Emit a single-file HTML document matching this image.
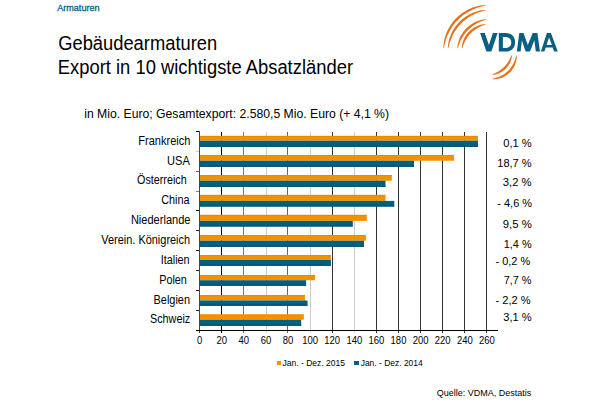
<!DOCTYPE html>
<html><head><meta charset="utf-8"><style>
html,body{margin:0;padding:0;background:#fff;width:600px;height:400px;overflow:hidden}
svg{display:block}
text{font-family:"Liberation Sans",sans-serif}
</style></head><body>
<svg width="600" height="400" viewBox="0 0 600 400">
<rect x="221" y="132" width="1" height="201" fill="#000"/>
<rect x="243" y="132" width="1" height="201" fill="#777"/>
<rect x="266" y="132" width="1" height="201" fill="#ccc"/>
<rect x="287" y="132" width="1" height="201" fill="#666"/>
<rect x="310" y="132" width="1" height="201" fill="#ccc"/>
<rect x="332" y="132" width="1" height="201" fill="#333"/>
<rect x="354" y="132" width="1" height="201" fill="#ccc"/>
<rect x="376" y="132" width="1" height="201" fill="#333"/>
<rect x="398" y="132" width="1" height="201" fill="#333"/>
<rect x="420" y="132" width="1" height="201" fill="#333"/>
<rect x="442" y="132" width="1" height="201" fill="#333"/>
<rect x="464" y="132" width="1" height="201" fill="#333"/>
<rect x="486" y="132" width="1" height="201" fill="#333"/>
<rect x="200" y="135.9" width="278.00" height="4.85" fill="#f39200"/>
<rect x="200" y="140.75" width="278.00" height="6.00" fill="#006080"/>
<rect x="200" y="145.65" width="278.00" height="1.1" fill="#004e6a"/>
<rect x="200" y="135.9" width="278.00" height="1" fill="#ee8700"/>
<rect x="200" y="155.0" width="254.00" height="5.75" fill="#f39200"/>
<rect x="200" y="160.75" width="214.00" height="6.00" fill="#006080"/>
<rect x="200" y="165.65" width="214.00" height="1.1" fill="#004e6a"/>
<rect x="200" y="155.0" width="254.00" height="1" fill="#ee8700"/>
<rect x="200" y="175.0" width="191.80" height="5.75" fill="#f39200"/>
<rect x="200" y="180.75" width="185.50" height="6.00" fill="#006080"/>
<rect x="200" y="185.65" width="185.50" height="1.1" fill="#004e6a"/>
<rect x="200" y="175.0" width="191.80" height="1" fill="#ee8700"/>
<rect x="200" y="194.9" width="185.50" height="6.00" fill="#f39200"/>
<rect x="200" y="200.9" width="194.30" height="5.60" fill="#006080"/>
<rect x="200" y="205.40" width="194.30" height="1.1" fill="#004e6a"/>
<rect x="200" y="194.9" width="185.50" height="1" fill="#ee8700"/>
<rect x="200" y="214.9" width="166.80" height="6.00" fill="#f39200"/>
<rect x="200" y="220.9" width="152.80" height="5.60" fill="#006080"/>
<rect x="200" y="225.40" width="152.80" height="1.1" fill="#004e6a"/>
<rect x="200" y="214.9" width="166.80" height="1" fill="#ee8700"/>
<rect x="200" y="235.0" width="165.90" height="5.75" fill="#f39200"/>
<rect x="200" y="240.75" width="164.00" height="6.00" fill="#006080"/>
<rect x="200" y="245.65" width="164.00" height="1.1" fill="#004e6a"/>
<rect x="200" y="235.0" width="165.90" height="1" fill="#ee8700"/>
<rect x="200" y="255.0" width="130.90" height="5.00" fill="#f39200"/>
<rect x="200" y="260.0" width="130.90" height="5.75" fill="#006080"/>
<rect x="200" y="264.65" width="130.90" height="1.1" fill="#004e6a"/>
<rect x="200" y="255.0" width="130.90" height="1" fill="#ee8700"/>
<rect x="200" y="275.0" width="115.00" height="5.25" fill="#f39200"/>
<rect x="200" y="280.25" width="106.10" height="5.50" fill="#006080"/>
<rect x="200" y="284.65" width="106.10" height="1.1" fill="#004e6a"/>
<rect x="200" y="275.0" width="115.00" height="1" fill="#ee8700"/>
<rect x="200" y="295.0" width="105.00" height="5.50" fill="#f39200"/>
<rect x="200" y="300.5" width="107.50" height="5.25" fill="#006080"/>
<rect x="200" y="304.65" width="107.50" height="1.1" fill="#004e6a"/>
<rect x="200" y="295.0" width="105.00" height="1" fill="#ee8700"/>
<rect x="200" y="314.5" width="103.80" height="5.25" fill="#f39200"/>
<rect x="200" y="319.75" width="101.20" height="6.00" fill="#006080"/>
<rect x="200" y="324.65" width="101.20" height="1.1" fill="#004e6a"/>
<rect x="200" y="314.5" width="103.80" height="1" fill="#ee8700"/>
<rect x="199" y="131" width="1" height="202" fill="#444"/>
<rect x="196" y="330" width="302" height="1" fill="#000"/>
<rect x="196" y="131" width="3" height="1" fill="#000"/>
<rect x="196" y="151" width="3" height="1" fill="#ccc"/>
<rect x="196" y="171" width="3" height="1" fill="#666"/>
<rect x="196" y="191" width="3" height="1" fill="#888"/>
<rect x="196" y="210" width="3" height="1" fill="#000"/>
<rect x="196" y="230" width="3" height="1" fill="#222"/>
<rect x="196" y="250" width="3" height="1" fill="#222"/>
<rect x="196" y="270" width="3" height="1" fill="#222"/>
<rect x="196" y="290" width="3" height="1" fill="#222"/>
<rect x="196" y="310" width="3" height="1" fill="#222"/>
<rect x="277" y="361" width="4" height="4" fill="#f39200"/>
<rect x="354" y="361" width="5" height="4" fill="#006080"/>
<g fill="#e6711b"><path d="M443.42,48.21 L443.42,46.56 L443.54,44.92 L443.73,43.28 L443.99,41.64 L444.31,40.02 L444.70,38.41 L445.14,36.81 L445.65,35.23 L446.22,33.66 L446.84,32.12 L447.53,30.60 L448.27,29.11 L449.06,27.64 L449.92,26.21 L450.82,24.80 L451.77,23.43 L452.78,22.10 L453.84,20.80 L454.94,19.55 L456.09,18.33 L457.28,17.16 L458.52,16.04 L459.80,14.96 L461.12,13.93 L462.47,12.95 L463.86,12.03 L465.28,11.15 L466.73,10.33 L468.21,9.57 L469.72,8.86 L471.25,8.21 L472.80,7.61 L474.38,7.08 L475.97,6.60 L477.57,6.19 L479.19,5.84 L480.82,5.55 L482.46,5.33 L484.10,5.19 L485.75,5.16 L485.79,5.63 L484.20,5.98 L482.62,6.32 L481.05,6.70 L479.50,7.13 L477.96,7.60 L476.45,8.11 L474.95,8.68 L473.47,9.29 L472.01,9.95 L470.58,10.65 L469.17,11.40 L467.78,12.19 L466.43,13.03 L465.10,13.90 L463.80,14.82 L462.54,15.78 L461.30,16.79 L460.10,17.83 L458.93,18.90 L457.80,20.02 L456.71,21.17 L455.65,22.35 L454.63,23.57 L453.65,24.82 L452.71,26.11 L451.81,27.42 L450.96,28.76 L450.14,30.13 L449.38,31.53 L448.65,32.95 L447.97,34.39 L447.34,35.86 L446.75,37.35 L446.22,38.86 L445.72,40.39 L445.28,41.93 L444.88,43.49 L444.53,45.07 L444.21,46.65 L443.89,48.25Z"/><path d="M447.86,48.20 L447.88,46.73 L448.02,45.28 L448.22,43.82 L448.48,42.38 L448.79,40.95 L449.16,39.52 L449.58,38.11 L450.05,36.71 L450.58,35.34 L451.15,33.97 L451.78,32.63 L452.45,31.32 L453.17,30.02 L453.94,28.76 L454.75,27.52 L455.61,26.31 L456.51,25.13 L457.46,23.99 L458.44,22.88 L459.47,21.80 L460.53,20.77 L461.63,19.77 L462.77,18.82 L463.93,17.90 L465.13,17.03 L466.37,16.21 L467.62,15.43 L468.91,14.69 L470.22,14.01 L471.56,13.37 L472.91,12.78 L474.28,12.24 L475.68,11.76 L477.08,11.32 L478.50,10.94 L479.94,10.61 L481.38,10.34 L482.83,10.13 L484.28,9.98 L485.74,9.94 L485.80,10.41 L484.40,10.77 L483.01,11.11 L481.63,11.49 L480.27,11.89 L478.92,12.34 L477.58,12.83 L476.27,13.35 L474.97,13.91 L473.69,14.51 L472.43,15.15 L471.19,15.83 L469.98,16.54 L468.78,17.29 L467.62,18.08 L466.47,18.90 L465.36,19.75 L464.27,20.64 L463.21,21.56 L462.18,22.51 L461.17,23.49 L460.20,24.50 L459.26,25.55 L458.35,26.62 L457.47,27.71 L456.63,28.84 L455.82,29.99 L455.05,31.16 L454.31,32.36 L453.61,33.59 L452.94,34.83 L452.32,36.10 L451.73,37.38 L451.18,38.69 L450.67,40.01 L450.19,41.35 L449.76,42.70 L449.37,44.07 L449.01,45.45 L448.68,46.85 L448.33,48.25Z"/><path d="M457.35,48.18 L457.37,47.08 L457.49,46.00 L457.66,44.91 L457.88,43.84 L458.13,42.77 L458.42,41.71 L458.76,40.66 L459.12,39.63 L459.53,38.60 L459.97,37.59 L460.45,36.59 L460.96,35.61 L461.51,34.65 L462.09,33.70 L462.70,32.78 L463.35,31.87 L464.02,30.99 L464.73,30.14 L465.46,29.30 L466.23,28.50 L467.02,27.72 L467.84,26.97 L468.68,26.25 L469.55,25.56 L470.44,24.89 L471.35,24.26 L472.29,23.67 L473.24,23.10 L474.21,22.57 L475.20,22.08 L476.21,21.62 L477.22,21.19 L478.26,20.81 L479.30,20.46 L480.35,20.14 L481.41,19.87 L482.49,19.64 L483.56,19.45 L484.65,19.31 L485.74,19.26 L485.82,19.73 L484.81,20.09 L483.80,20.42 L482.80,20.77 L481.80,21.14 L480.82,21.53 L479.86,21.94 L478.90,22.38 L477.96,22.84 L477.04,23.33 L476.13,23.84 L475.23,24.37 L474.35,24.93 L473.49,25.51 L472.64,26.11 L471.81,26.74 L471.00,27.38 L470.21,28.05 L469.43,28.74 L468.68,29.45 L467.94,30.18 L467.22,30.93 L466.53,31.70 L465.85,32.49 L465.20,33.29 L464.57,34.11 L463.96,34.95 L463.37,35.81 L462.81,36.69 L462.26,37.58 L461.75,38.48 L461.25,39.40 L460.78,40.34 L460.34,41.28 L459.92,42.25 L459.52,43.22 L459.15,44.21 L458.80,45.20 L458.47,46.21 L458.16,47.23 L457.82,48.25Z"/><path d="M461.76,48.16 L461.74,47.25 L461.82,46.34 L461.94,45.43 L462.10,44.53 L462.29,43.63 L462.52,42.75 L462.78,41.86 L463.08,40.99 L463.41,40.13 L463.77,39.28 L464.16,38.44 L464.58,37.61 L465.03,36.80 L465.51,36.01 L466.01,35.23 L466.55,34.47 L467.11,33.73 L467.70,33.01 L468.32,32.31 L468.96,31.64 L469.62,30.99 L470.31,30.36 L471.02,29.76 L471.75,29.18 L472.50,28.63 L473.27,28.11 L474.05,27.62 L474.86,27.16 L475.67,26.72 L476.51,26.32 L477.35,25.94 L478.21,25.60 L479.08,25.29 L479.96,25.02 L480.84,24.77 L481.73,24.56 L482.63,24.39 L483.54,24.25 L484.44,24.16 L485.36,24.16 L485.44,24.63 L484.60,24.95 L483.76,25.23 L482.93,25.52 L482.11,25.83 L481.30,26.16 L480.50,26.50 L479.71,26.87 L478.94,27.25 L478.17,27.66 L477.42,28.08 L476.68,28.52 L475.96,28.99 L475.25,29.47 L474.55,29.96 L473.86,30.48 L473.19,31.02 L472.54,31.57 L471.90,32.14 L471.28,32.72 L470.67,33.32 L470.08,33.94 L469.50,34.57 L468.95,35.22 L468.41,35.88 L467.88,36.56 L467.38,37.25 L466.89,37.96 L466.42,38.68 L465.97,39.41 L465.54,40.16 L465.13,40.92 L464.74,41.69 L464.37,42.47 L464.02,43.27 L463.69,44.07 L463.37,44.89 L463.08,45.71 L462.80,46.55 L462.53,47.39 L462.23,48.23Z"/><path d="M511.95,55.41 L511.95,56.16 L511.86,56.89 L511.73,57.61 L511.58,58.34 L511.40,59.05 L511.19,59.77 L510.95,60.47 L510.69,61.17 L510.41,61.86 L510.10,62.54 L509.77,63.21 L509.41,63.86 L509.03,64.51 L508.63,65.14 L508.21,65.76 L507.76,66.37 L507.30,66.96 L506.82,67.53 L506.31,68.09 L505.79,68.63 L505.25,69.15 L504.69,69.65 L504.11,70.14 L503.52,70.60 L502.92,71.04 L502.30,71.46 L501.66,71.86 L501.01,72.24 L500.35,72.60 L499.69,72.93 L499.00,73.23 L498.32,73.52 L497.62,73.78 L496.91,74.01 L496.20,74.22 L495.48,74.40 L494.76,74.55 L494.03,74.67 L493.30,74.76 L492.56,74.76 L492.46,74.29 L493.11,73.98 L493.77,73.71 L494.42,73.43 L495.06,73.14 L495.69,72.85 L496.32,72.54 L496.94,72.22 L497.55,71.89 L498.15,71.54 L498.74,71.18 L499.32,70.81 L499.89,70.43 L500.45,70.03 L501.00,69.62 L501.54,69.20 L502.07,68.77 L502.59,68.33 L503.11,67.87 L503.60,67.41 L504.09,66.93 L504.57,66.44 L505.04,65.94 L505.49,65.44 L505.94,64.92 L506.37,64.39 L506.79,63.85 L507.20,63.29 L507.60,62.73 L507.98,62.16 L508.35,61.58 L508.71,60.99 L509.06,60.40 L509.40,59.79 L509.72,59.17 L510.03,58.55 L510.33,57.91 L510.61,57.27 L510.89,56.62 L511.17,55.96 L511.48,55.31Z"/><path d="M516.63,55.42 L516.71,56.36 L516.70,57.30 L516.63,58.24 L516.52,59.17 L516.37,60.10 L516.18,61.03 L515.96,61.95 L515.69,62.86 L515.38,63.77 L515.04,64.66 L514.66,65.53 L514.25,66.39 L513.80,67.24 L513.32,68.06 L512.80,68.87 L512.25,69.66 L511.67,70.42 L511.06,71.16 L510.42,71.88 L509.75,72.56 L509.05,73.22 L508.33,73.86 L507.58,74.46 L506.81,75.03 L506.01,75.57 L505.20,76.07 L504.37,76.54 L503.52,76.98 L502.65,77.38 L501.77,77.75 L500.87,78.08 L499.97,78.37 L499.05,78.63 L498.13,78.84 L497.20,79.02 L496.26,79.16 L495.33,79.25 L494.39,79.30 L493.45,79.31 L492.51,79.21 L492.49,78.73 L493.38,78.51 L494.26,78.31 L495.14,78.09 L496.00,77.86 L496.86,77.60 L497.70,77.32 L498.54,77.01 L499.36,76.67 L500.17,76.32 L500.96,75.93 L501.75,75.53 L502.51,75.10 L503.27,74.64 L504.00,74.17 L504.72,73.67 L505.43,73.15 L506.11,72.61 L506.78,72.04 L507.43,71.46 L508.06,70.86 L508.68,70.23 L509.27,69.59 L509.84,68.93 L510.39,68.25 L510.92,67.55 L511.43,66.84 L511.92,66.11 L512.38,65.36 L512.82,64.60 L513.24,63.83 L513.63,63.04 L514.00,62.23 L514.34,61.41 L514.66,60.59 L514.96,59.74 L515.23,58.89 L515.48,58.03 L515.70,57.16 L515.91,56.27 L516.15,55.39Z"/></g>
<path d="M480.1,33.1 L484.8,33.1 L488.9,45.1 L492.9,33.1 L497.6,33.1 L491.4,51.6 L486.4,51.6 Z M498.8,33.1 H505.5 C511.5,33.1 515.1,36.8 515.1,42.35 C515.1,47.9 511.5,51.6 505.5,51.6 H498.8 Z M502.9,36.9 H505 C509,36.9 511.3,39 511.3,42.5 C511.3,46 509,48.1 505,48.1 H502.9 Z M516.8,51.6 L519.3,33.1 L523.5,33.1 L527.8,45 L532.7,33.1 L537.4,33.1 L540,51.6 L535.8,51.6 L534.3,40.3 L530,51.6 L525.6,51.6 L521.9,40.5 L520.6,51.6 Z M540.9,51.6 L546.9,33.1 L550.9,33.1 L557.8,51.6 L554.1,51.6 L552.6,47.5 L545.7,47.5 L544.4,51.6 Z M549,37.5 L551.9,45 L546.6,45 Z" fill="#0b5f80" fill-rule="evenodd"/>
<text stroke="#005a82" stroke-width="0.25" x="57.18" y="11.50" font-size="9.0" textLength="42.41" lengthAdjust="spacingAndGlyphs" fill="#005a82" transform="translate(0 11.50) scale(1 1.06) translate(0 -11.50)">Armaturen</text>
<text x="58.18" y="49.75" font-size="19.0" textLength="159.01" lengthAdjust="spacingAndGlyphs" fill="#000" transform="translate(0 49.75) scale(1 1.055) translate(0 -49.75)">Gebäudearmaturen</text>
<text x="57.80" y="74.20" font-size="19.0" textLength="295.21" lengthAdjust="spacingAndGlyphs" fill="#000" transform="translate(0 74.20) scale(1 1.055) translate(0 -74.20)">Export in 10 wichtigste Absatzländer</text>
<text x="84.18" y="118.00" font-size="12.2" textLength="304.87" lengthAdjust="spacingAndGlyphs" fill="#000" transform="translate(0 118.00) scale(1 1.06) translate(0 -118.00)">in Mio. Euro; Gesamtexport: 2.580,5 Mio. Euro (+ 4,1 %)</text>
<text x="138.35" y="144.75" font-size="11.2" textLength="52.07" lengthAdjust="spacingAndGlyphs" fill="#000" transform="translate(0 144.75) scale(1 1.06) translate(0 -144.75)">Frankreich</text>
<text x="167.05" y="164.70" font-size="11.2" textLength="22.78" lengthAdjust="spacingAndGlyphs" fill="#000" transform="translate(0 164.70) scale(1 1.06) translate(0 -164.70)">USA</text>
<text x="137.09" y="183.80" font-size="11.2" textLength="49.61" lengthAdjust="spacingAndGlyphs" fill="#000" transform="translate(0 183.80) scale(1 1.06) translate(0 -183.80)">Österreich</text>
<text x="161.15" y="203.80" font-size="11.2" textLength="28.35" lengthAdjust="spacingAndGlyphs" fill="#000" transform="translate(0 203.80) scale(1 1.06) translate(0 -203.80)">China</text>
<text x="130.89" y="224.10" font-size="11.2" textLength="59.60" lengthAdjust="spacingAndGlyphs" fill="#000" transform="translate(0 224.10) scale(1 1.06) translate(0 -224.10)">Niederlande</text>
<text x="101.35" y="243.90" font-size="11.2" textLength="88.75" lengthAdjust="spacingAndGlyphs" fill="#000" transform="translate(0 243.90) scale(1 1.06) translate(0 -243.90)">Verein. Königreich</text>
<text x="160.70" y="264.00" font-size="11.2" textLength="28.90" lengthAdjust="spacingAndGlyphs" fill="#000" transform="translate(0 264.00) scale(1 1.06) translate(0 -264.00)">Italien</text>
<text x="159.21" y="283.80" font-size="11.2" textLength="27.69" lengthAdjust="spacingAndGlyphs" fill="#000" transform="translate(0 283.80) scale(1 1.06) translate(0 -283.80)">Polen</text>
<text x="153.60" y="303.75" font-size="11.2" textLength="36.40" lengthAdjust="spacingAndGlyphs" fill="#000" transform="translate(0 303.75) scale(1 1.06) translate(0 -303.75)">Belgien</text>
<text x="149.91" y="323.00" font-size="11.2" textLength="40.33" lengthAdjust="spacingAndGlyphs" fill="#000" transform="translate(0 323.00) scale(1 1.06) translate(0 -323.00)">Schweiz</text>
<text x="503.27" y="147.00" font-size="11.2" textLength="28.43" lengthAdjust="spacingAndGlyphs" fill="#000">0,1 %</text>
<text x="497.26" y="166.70" font-size="11.2" textLength="34.33" lengthAdjust="spacingAndGlyphs" fill="#000">18,7 %</text>
<text x="502.82" y="186.25" font-size="11.2" textLength="28.78" lengthAdjust="spacingAndGlyphs" fill="#000">3,2 %</text>
<text x="497.36" y="207.20" font-size="11.2" textLength="34.63" lengthAdjust="spacingAndGlyphs" fill="#000">- 4,6 %</text>
<text x="502.72" y="227.60" font-size="11.2" textLength="28.99" lengthAdjust="spacingAndGlyphs" fill="#000">9,5 %</text>
<text x="503.77" y="247.85" font-size="11.2" textLength="27.92" lengthAdjust="spacingAndGlyphs" fill="#000">1,4 %</text>
<text x="495.51" y="264.70" font-size="11.2" textLength="34.68" lengthAdjust="spacingAndGlyphs" fill="#000">- 0,2 %</text>
<text x="503.64" y="283.60" font-size="11.2" textLength="27.95" lengthAdjust="spacingAndGlyphs" fill="#000">7,7 %</text>
<text x="495.51" y="303.75" font-size="11.2" textLength="35.14" lengthAdjust="spacingAndGlyphs" fill="#000">- 2,2 %</text>
<text x="503.33" y="320.90" font-size="11.2" textLength="28.32" lengthAdjust="spacingAndGlyphs" fill="#000">3,1 %</text>
<text x="199.61" y="343.8" font-size="9.5" text-anchor="middle" fill="#000" transform="translate(0 343.8) scale(1 1.1) translate(0 -343.8)">0</text>
<text x="221.71" y="343.8" font-size="9.5" text-anchor="middle" fill="#000" transform="translate(0 343.8) scale(1 1.1) translate(0 -343.8)">20</text>
<text x="243.81" y="343.8" font-size="9.5" text-anchor="middle" fill="#000" transform="translate(0 343.8) scale(1 1.1) translate(0 -343.8)">40</text>
<text x="265.91" y="343.8" font-size="9.5" text-anchor="middle" fill="#000" transform="translate(0 343.8) scale(1 1.1) translate(0 -343.8)">60</text>
<text x="288.01" y="343.8" font-size="9.5" text-anchor="middle" fill="#000" transform="translate(0 343.8) scale(1 1.1) translate(0 -343.8)">80</text>
<text x="310.11" y="343.8" font-size="9.5" text-anchor="middle" fill="#000" transform="translate(0 343.8) scale(1 1.1) translate(0 -343.8)">100</text>
<text x="332.20" y="343.8" font-size="9.5" text-anchor="middle" fill="#000" transform="translate(0 343.8) scale(1 1.1) translate(0 -343.8)">120</text>
<text x="354.30" y="343.8" font-size="9.5" text-anchor="middle" fill="#000" transform="translate(0 343.8) scale(1 1.1) translate(0 -343.8)">140</text>
<text x="376.40" y="343.8" font-size="9.5" text-anchor="middle" fill="#000" transform="translate(0 343.8) scale(1 1.1) translate(0 -343.8)">160</text>
<text x="398.50" y="343.8" font-size="9.5" text-anchor="middle" fill="#000" transform="translate(0 343.8) scale(1 1.1) translate(0 -343.8)">180</text>
<text x="420.60" y="343.8" font-size="9.5" text-anchor="middle" fill="#000" transform="translate(0 343.8) scale(1 1.1) translate(0 -343.8)">200</text>
<text x="442.70" y="343.8" font-size="9.5" text-anchor="middle" fill="#000" transform="translate(0 343.8) scale(1 1.1) translate(0 -343.8)">220</text>
<text x="464.80" y="343.8" font-size="9.5" text-anchor="middle" fill="#000" transform="translate(0 343.8) scale(1 1.1) translate(0 -343.8)">240</text>
<text x="486.89" y="343.8" font-size="9.5" text-anchor="middle" fill="#000" transform="translate(0 343.8) scale(1 1.1) translate(0 -343.8)">260</text>
<text x="282.47" y="365.80" font-size="8.6" textLength="62.49" lengthAdjust="spacingAndGlyphs" fill="#000" transform="translate(0 365.80) scale(1 1.06) translate(0 -365.80)">Jan. - Dez. 2015</text>
<text x="360.67" y="365.80" font-size="8.6" textLength="62.08" lengthAdjust="spacingAndGlyphs" fill="#000" transform="translate(0 365.80) scale(1 1.06) translate(0 -365.80)">Jan. - Dez. 2014</text>
<text x="436.77" y="395.90" font-size="9.0" textLength="94.55" lengthAdjust="spacingAndGlyphs" fill="#000" transform="translate(0 395.90) scale(1 1.06) translate(0 -395.90)">Quelle: VDMA, Destatis</text>
</svg>
</body></html>
